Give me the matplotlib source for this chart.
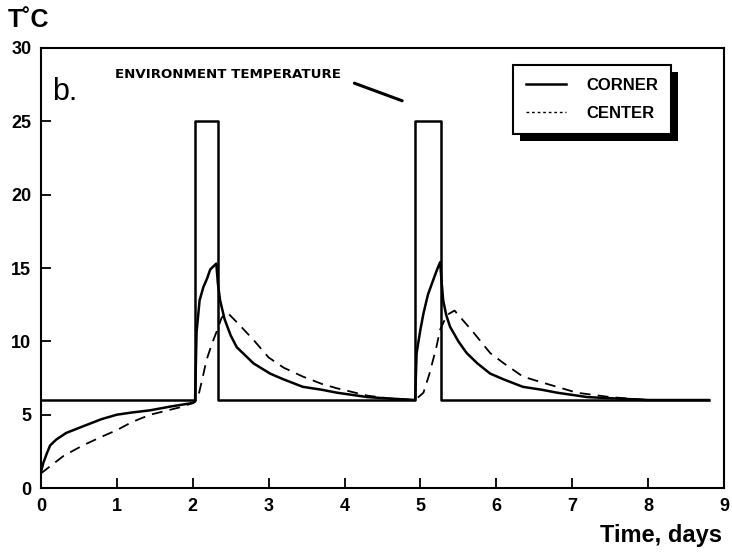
import matplotlib
matplotlib.use('Agg')
import matplotlib.pyplot as plt
from matplotlib.patches import Rectangle

plt.rcParams['font.family'] = ['Liberation Sans', 'DejaVu Sans']

# Температура окружающей среды (прямоугольные импульсы)
t_env = [0, 2.03, 2.03, 2.33, 2.33, 4.93, 4.93, 5.27, 5.27, 8.8]
T_env = [6, 6, 25, 25, 6, 6, 25, 25, 6, 6]

# Угол (сплошная линия)
t_corner = [0, 0.03, 0.08, 0.12, 0.2, 0.33, 0.55, 0.8, 1.0, 1.2, 1.44, 1.7, 2.0, 2.03,
            2.05, 2.09, 2.14, 2.19, 2.23, 2.27, 2.31, 2.33, 2.36, 2.42, 2.5, 2.58, 2.7,
            2.8, 3.02, 3.2, 3.45, 3.7, 3.9, 4.3, 4.6, 4.93, 4.95, 5.0, 5.04, 5.1, 5.17,
            5.22, 5.26, 5.28, 5.3, 5.34, 5.39, 5.5, 5.61, 5.75, 5.92, 6.1, 6.35, 6.6,
            6.8, 7.2, 7.6, 8.0, 8.8]
T_corner = [1.1, 1.7, 2.4, 2.9, 3.3, 3.75, 4.2, 4.7, 5.0, 5.15, 5.3, 5.55, 5.8, 5.9,
            10.6, 12.8, 13.7, 14.3, 14.9, 15.1, 15.3, 14.0, 12.8, 11.5, 10.4, 9.6, 9.0,
            8.5, 7.8, 7.4, 6.9, 6.7, 6.5, 6.2, 6.1, 6.0, 9.2, 10.8, 11.9, 13.2, 14.2,
            14.9, 15.4, 14.0, 12.8, 11.8, 11.0, 10.0, 9.2, 8.5, 7.8, 7.4, 6.9, 6.7,
            6.5, 6.2, 6.1, 6.0, 6.0]

# Центр (пунктир)
t_center = [0, 0.1, 0.3, 0.55, 0.8, 1.0, 1.2, 1.44, 1.83, 2.0, 2.03, 2.07, 2.12, 2.18,
            2.25, 2.31, 2.38, 2.45, 2.6, 2.8, 3.0, 3.2, 3.45, 3.7, 3.9, 4.3, 4.6, 4.93,
            5.04, 5.12, 5.21, 5.26, 5.35, 5.45, 5.55, 5.7, 5.92, 6.1, 6.35, 6.6, 6.8,
            7.06, 7.5, 8.0, 8.8]
T_center = [1.0, 1.4, 2.2, 2.9, 3.5, 3.95, 4.5, 5.0, 5.5, 5.8, 5.9, 6.2, 7.3, 8.7,
            9.8, 10.6, 11.6, 12.0, 11.2, 10.1, 8.9, 8.2, 7.6, 7.1, 6.8, 6.3, 6.1, 6.0,
            6.5, 7.8, 9.6, 10.8, 11.8, 12.1, 11.5, 10.6, 9.2, 8.5, 7.6, 7.2, 6.9,
            6.5, 6.2, 6.0, 6.0]

fig = plt.figure(figsize=(7.32, 5.58), dpi=100)
ax = fig.add_axes([0.056, 0.1254, 0.933, 0.7886])

ax.plot(t_env, T_env, color='black', lw=1.8)
ax.plot(t_corner, T_corner, color='black', lw=1.8, label='CORNER')
ax.plot(t_center, T_center, color='black', lw=1.3, dashes=(6, 4), label='CENTER')

ax.set_xlim(0, 9)
ax.set_ylim(0, 30)
ax.set_xticks(range(0, 10))
ax.set_yticks(range(0, 31, 5))
ax.tick_params(direction='in', length=7, width=1.3, labelsize=13, pad=7)
for lab in ax.get_xticklabels() + ax.get_yticklabels():
    lab.set_fontweight('bold')
for sp in ax.spines.values():
    sp.set_linewidth(1.5)

# Подписи
fig.text(0.011, 0.985, 'T˚C', fontsize=18, fontweight='bold', va='top')
fig.text(0.987, 0.028, 'Time, days', fontsize=17, fontweight='bold', ha='right')
ax.text(0.016, 0.935, 'b.', transform=ax.transAxes, fontsize=22, va='top')

ax.text(2.46, 28.2, 'ENVIRONMENT TEMPERATURE', fontsize=9.6, fontweight='bold',
        family='DejaVu Sans', ha='center', va='center')
ax.annotate('', xy=(4.76, 26.4), xytext=(4.13, 27.6),
            arrowprops=dict(arrowstyle='-', lw=2.2, color='black',
                            shrinkA=0, shrinkB=0))

leg = ax.legend(loc='upper left', bbox_to_anchor=(0.691, 0.962), frameon=True,
                fancybox=False, edgecolor='black', framealpha=1,
                prop={'weight': 'bold', 'size': 12}, handlelength=2.4,
                handletextpad=1.2, borderpad=0.8, labelspacing=0.75, borderaxespad=0)
leg.get_frame().set_linewidth(1.5)
leg.get_lines()[1].set_dashes((2, 2))
leg.get_lines()[1].set_linewidth(1.0)

# Тень легенды
fig.canvas.draw()
bb = leg.get_window_extent()
shadow = Rectangle((bb.x0 + 7, bb.y0 - 7), bb.width, bb.height, transform=None,
                   facecolor='black', edgecolor='none', zorder=leg.get_zorder() - 0.1)
ax.add_artist(shadow)

fig.savefig('out.png', dpi=100)
